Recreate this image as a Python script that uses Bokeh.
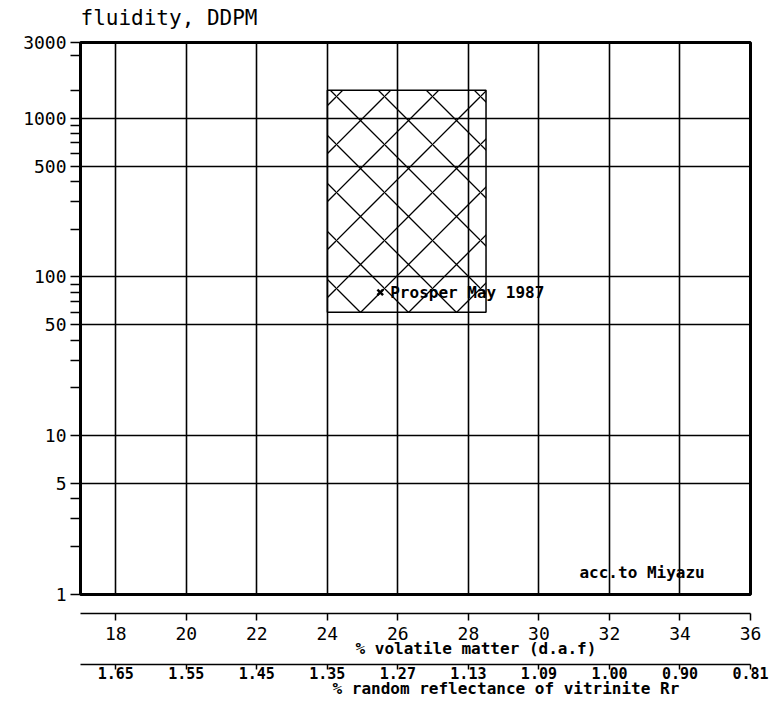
from bokeh.plotting import figure
from bokeh.models import FixedTicker, LinearAxis, Title, Label, Grid
from bokeh.core.properties import value
from bokeh.embed import file_html
from bokeh.resources import INLINE

# ---- data ----
volatile_ticks = [18, 20, 22, 24, 26, 28, 30, 32, 34, 36]
reflectance_labels = ["1.65", "1.55", "1.45", "1.35", "1.27", "1.13", "1.09", "1.00", "0.90", "0.81"]
fluidity_ticks = [1, 5, 10, 50, 100, 500, 1000, 3000]
fluidity_labels = ["1", "5", "10", "50", "100", "500", "1000", "3000"]
fluidity_minor = [2, 3, 4, 20, 30, 40, 60, 70, 80, 90, 200, 300, 400, 600, 700, 800, 900, 1500, 2500]
grid_x = [18, 20, 22, 24, 26, 28, 30, 32, 34]
grid_y = [5, 10, 50, 100, 500, 1000]
box_vm = [24, 28.5]
box_fluidity = [60, 1500]
sample_name = ["Prosper May 1987"]
sample_vm = [25.5]
sample_fluidity = [80]
source_note = "acc.to Miyazu"
source_vm = 31.15
source_fluidity = 1.38

MONO = "DejaVu Sans Mono"

p = figure(width=773, height=706, x_range=(17, 36), y_range=(1, 3000),
           y_axis_type="log", x_axis_location=None,
           output_backend="svg", toolbar_location=None,
           min_border_left=80, min_border_right=23, min_border_top=42, min_border_bottom=112)
p.background_fill_color = "white"
p.border_fill_color = "white"
p.outline_line_color = "black"
p.outline_line_width = 3
p.grid.visible = False

# title
p.title.text = "fluidity, DDPM"
p.title.align = "left"
p.title.text_font = MONO
p.title.text_font_size = "21px"
p.title.text_font_style = "normal"
p.title.text_color = "black"
p.title.standoff = 2

# grids
p.add_layout(Grid(dimension=0, ticker=FixedTicker(ticks=grid_x), grid_line_color="black", grid_line_width=1.6))
p.add_layout(Grid(dimension=1, ticker=FixedTicker(ticks=grid_y), grid_line_color="black", grid_line_width=1.6))

# left log axis
ya = p.yaxis[0]
ya.ticker = FixedTicker(ticks=fluidity_ticks, minor_ticks=fluidity_minor)
ya.major_label_overrides = {t: l for t, l in zip(fluidity_ticks, fluidity_labels)}
ya.axis_line_width = 3
ya.axis_line_color = "black"
ya.major_tick_out = 10
ya.major_tick_in = 0
ya.minor_tick_out = 10
ya.minor_tick_in = 0
ya.major_tick_line_width = 1.5
ya.minor_tick_line_width = 1.5
ya.major_tick_line_color = "black"
ya.minor_tick_line_color = "black"
ya.major_label_standoff = 4
ya.major_label_text_font = MONO
ya.major_label_text_font_size = "18px"
ya.major_label_text_color = "black"
ya.major_label_text_baseline = "bottom"


def spacer_axis(gap):
    return LinearAxis(ticker=FixedTicker(ticks=volatile_ticks, minor_ticks=[]),
                      axis_line_color=None, major_tick_line_color=None,
                      minor_tick_line_color=None, major_tick_out=gap, major_tick_in=0,
                      minor_tick_out=0, minor_tick_in=0, major_label_standoff=0,
                      major_label_text_color=None)


# spacer between the title and the frame
p.add_layout(spacer_axis(12), "above")

# spacer between frame and the volatile matter axis
p.add_layout(spacer_axis(19), "below")

# volatile matter axis
vm_axis = LinearAxis(ticker=FixedTicker(ticks=volatile_ticks, minor_ticks=[]),
                     axis_line_color="black", axis_line_width=1.6,
                     major_tick_out=7, major_tick_in=0, minor_tick_out=0, minor_tick_in=0,
                     major_tick_line_width=1.5, major_tick_line_color="black",
                     major_label_standoff=6, major_label_text_font=MONO,
                     major_label_text_font_size="18px", major_label_text_color="black")
p.add_layout(vm_axis, "below")
p.add_layout(Title(text="% volatile matter (d.a.f)", align="left", offset=275,
                   text_font=MONO, text_font_size="16px", text_font_style="bold",
                   text_color="black", standoff=-11), "below")

p.add_layout(spacer_axis(12), "below")

# reflectance axis
rr_axis = LinearAxis(ticker=FixedTicker(ticks=volatile_ticks, minor_ticks=[]),
                     major_label_overrides={t: l for t, l in zip(volatile_ticks, reflectance_labels)},
                     axis_line_color="black", axis_line_width=1.6,
                     major_tick_out=5, major_tick_in=0, minor_tick_out=0, minor_tick_in=0,
                     major_tick_line_width=1.5, major_tick_line_color="black",
                     major_label_standoff=-3, major_label_text_font=MONO,
                     major_label_text_font_size="15px", major_label_text_font_style="bold",
                     major_label_text_color="black")
p.add_layout(rr_axis, "below")
p.add_layout(Title(text="% random reflectance of vitrinite Rr", align="left", offset=252,
                   text_font=MONO, text_font_size="16px", text_font_style="bold",
                   text_color="black", standoff=-10), "below")

# hatched range box
p.quad(left=[box_vm[0]], right=[box_vm[1]], bottom=[box_fluidity[0]], top=[box_fluidity[1]],
       fill_color=None, line_color="black", line_width=1.5,
       hatch_pattern="diagonal_cross", hatch_scale=48, hatch_weight=1.3, hatch_color="black")

# sample point
p.scatter(x=sample_vm, y=sample_fluidity, marker="x", size=8, line_width=2.5, color="black")
p.text(x=sample_vm, y=sample_fluidity, text=sample_name, x_offset=10,
       text_baseline="middle", text_font=value(MONO), text_font_size="16px",
       text_font_style="bold", text_color="black")

p.add_layout(Label(x=source_vm, y=source_fluidity, text=source_note, text_baseline="middle",
                   text_font=MONO, text_font_size="16px", text_font_style="bold",
                   text_color="black"))

open("out.html", "w").write(file_html(p, INLINE))
